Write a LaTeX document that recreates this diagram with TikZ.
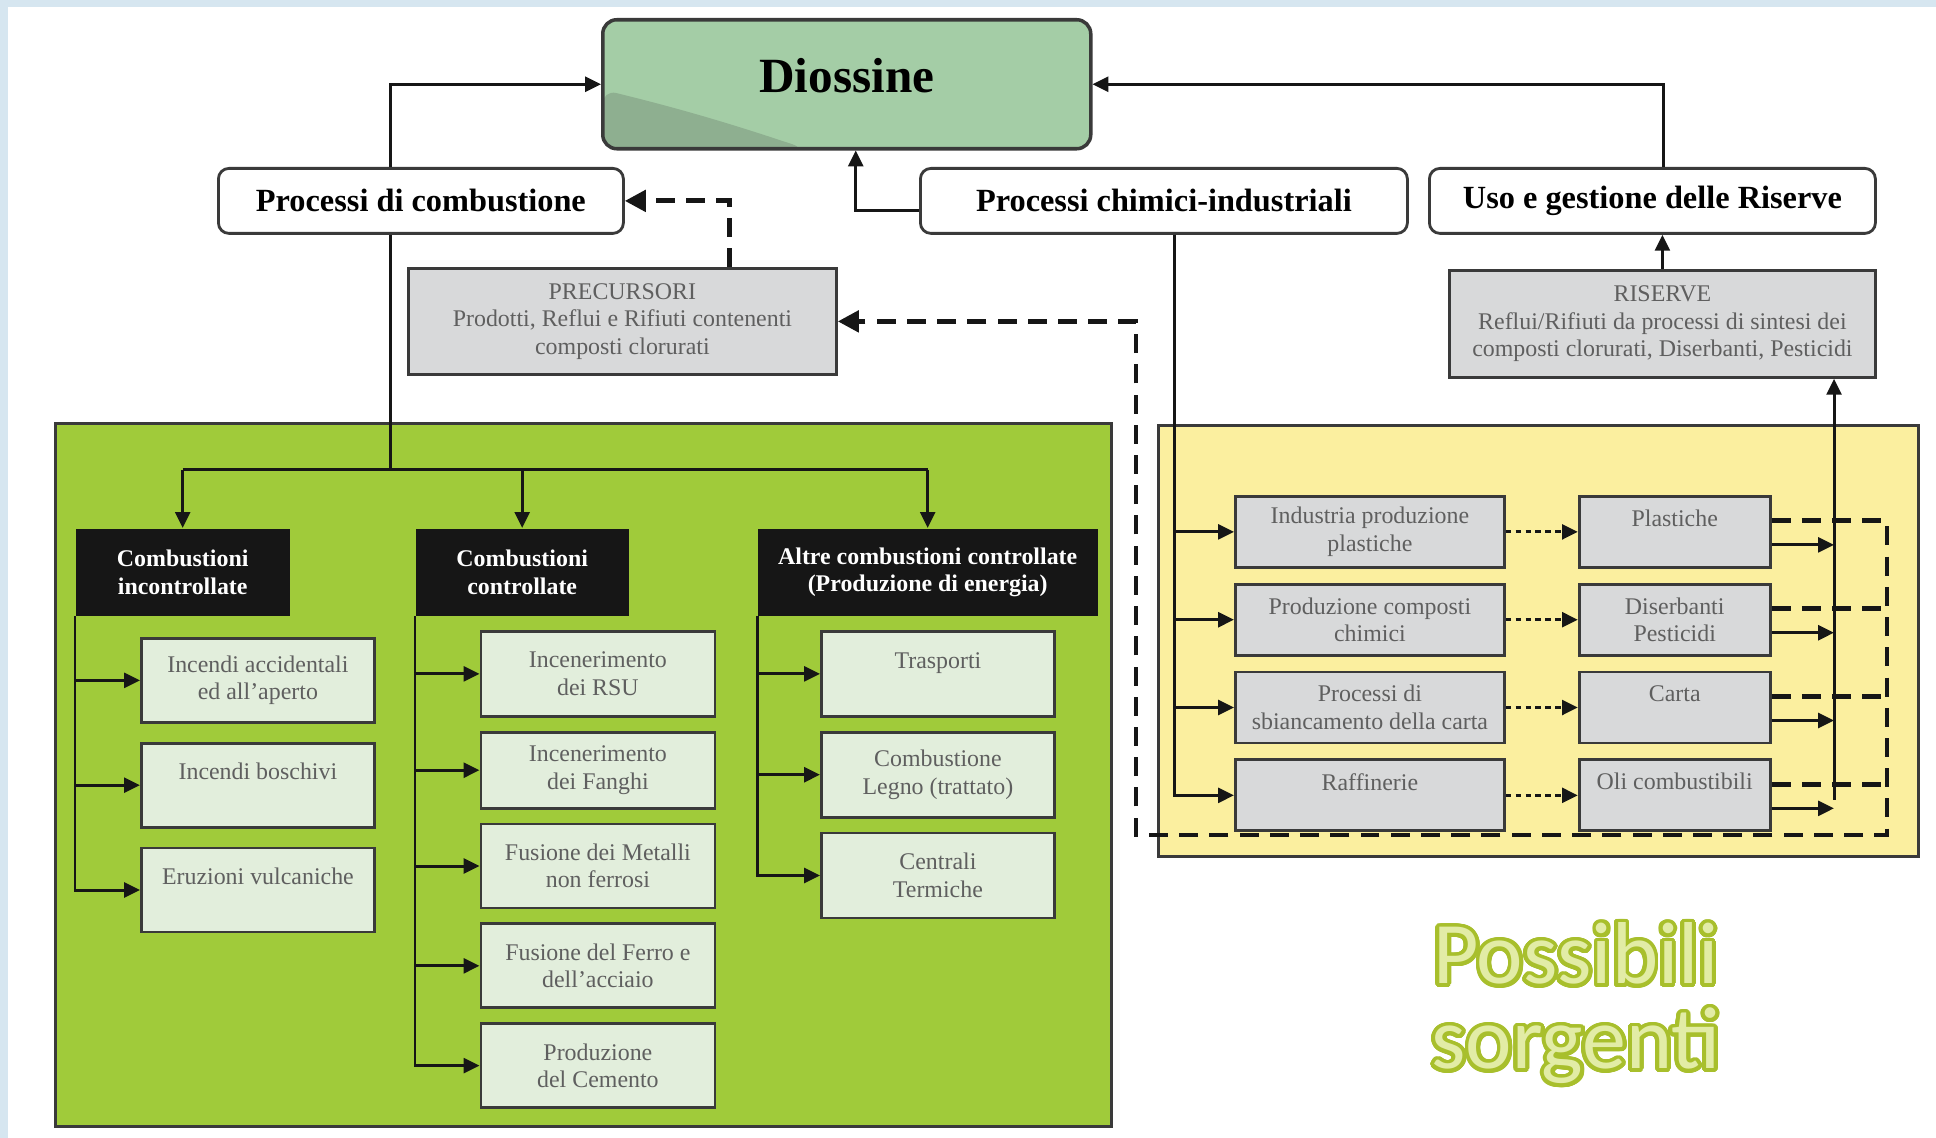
\documentclass[tikz,border=0pt]{standalone}
\usepackage{fontspec}
\setmainfont{Liberation Serif}
\newfontfamily\roundfont{Carlito}
\usepackage{contour}
\contourlength{1.1pt}
\contournumber{32}
\usetikzlibrary{arrows.meta,positioning,calc}
\usepackage{xcolor}
\definecolor{frame}{HTML}{D6E6F0}
\definecolor{ink}{HTML}{161616}
\definecolor{edge}{HTML}{3A3A3A}
\definecolor{grey}{HTML}{5F5F5F}
\definecolor{leaf}{HTML}{A0CB3A}
\definecolor{sand}{HTML}{FBEF9F}
\definecolor{mint}{HTML}{E2EEDC}
\definecolor{stone}{HTML}{D8D9DA}
\definecolor{dioxin}{HTML}{A4CDA6}
\definecolor{moss}{HTML}{8EAF90}
\definecolor{lime}{HTML}{A8BF2C}
\definecolor{limelight}{HTML}{E2ECA6}
\tikzset{
  smalltext/.style={font=\fontsize{6.8}{7.8}\selectfont},
  mainbox/.style={draw=edge,line width=0.8pt,fill=white,rounded corners=3pt,font=\fontsize{9.2}{11}\selectfont\bfseries,minimum height=0.65cm,inner sep=2pt,anchor=north west},
  diobox/.style={draw=edge,line width=1pt,rounded corners=4pt,fill=dioxin,font=\fontsize{14}{16}\selectfont\bfseries,text depth=0.18cm,anchor=north west,
    path picture={\fill[moss] ([yshift=5.9mm]path picture bounding box.south west) .. controls +(0.9,-0.22) and +(-0.6,0.2) .. ([xshift=20.3mm]path picture bounding box.south west) -- (path picture bounding box.south west) -- cycle;}},
  notebox/.style={smalltext,align=center,draw=edge,line width=0.8pt,fill=stone,text=grey,inner sep=2pt,anchor=north west},
  headbox/.style={font=\fontsize{6.8}{7.8}\selectfont\bfseries,align=center,fill=ink,text=white,minimum height=0.87cm,inner sep=1pt,anchor=north west},
  cellbox/.style={smalltext,align=center,draw=edge,line width=0.8pt,fill=mint,text=grey,minimum width=2.33cm,minimum height=0.84cm,inner sep=1pt},
  srcbox/.style={cellbox,fill=stone,minimum height=0.71cm},
  zone/.style={draw=edge,line width=0.8pt,inner sep=0pt,anchor=north west},
  wire/.style={draw=ink,line width=0.85pt},
  link/.style={wire,-{Triangle[length=4.5pt,width=4.2pt]}},
  dashlink/.style={draw=ink,line width=1.4pt,dash pattern=on 5.4pt off 3.2pt},
  dashtip/.style={-{Triangle[length=6pt,width=6pt]}},
  dotlink/.style={draw=ink,line width=0.9pt,dash pattern=on 1.6pt off 1.2pt,-{Triangle[length=4.5pt,width=4.2pt]}},
  sorg/.style={anchor=base,text=limelight,font=\roundfont\fontsize{25}{30}\selectfont}
}

\begin{document}
\begin{tikzpicture}
\fill[frame] (0,0) rectangle (19.36,-11.38);
\fill[white] (0.08,-0.07) rectangle (19.36,-11.38);
\useasboundingbox (0,0) rectangle (19.36,-11.38);

% coloured areas
\node[zone,fill=leaf,minimum width=10.56cm,minimum height=7.03cm] (combzone) at (0.54,-4.22) {};
\node[zone,fill=sand,minimum width=7.60cm,minimum height=4.31cm] (chimzone) at (11.57,-4.24) {};

% top row
\node[diobox,minimum width=4.88cm,minimum height=1.29cm] (diox) at (6.01,-0.18) {Diossine};
\node[mainbox,minimum width=4.05cm] (comb) at (2.17,-1.67) {Processi di combustione};
\node[mainbox,minimum width=4.87cm] (chim) at (9.19,-1.67) {Processi chimici-industriali};
\node[mainbox,minimum width=4.46cm] (uso) at (14.28,-1.67) {Uso e gestione delle Riserve};
\node[notebox,minimum width=4.28cm,minimum height=1.06cm] (prec) at (4.07,-2.67) {PRECURSORI\\Prodotti, Reflui e Rifiuti contenenti\\composti clorurati};
\node[notebox,minimum width=4.26cm,minimum height=1.07cm] (ris) at (14.48,-2.69) {RISERVE\\Reflui/Rifiuti da processi di sintesi dei\\composti clorurati, Diserbanti, Pesticidi};

% combustion types
\node[headbox,minimum width=2.14cm] (h1) at (0.75,-5.28) {Combustioni\\incontrollate};
\node[headbox,minimum width=2.13cm] (h2) at (4.15,-5.28) {Combustioni\\controllate};
\node[headbox,minimum width=3.40cm] (h3) at (7.57,-5.28) {Altre combustioni controllate\\(Produzione di energia)};

\node[cellbox,anchor=north west] (a1) at (1.40,-6.37) {Incendi accidentali\\ed all'aperto};
\node[cellbox,below=0.18cm of a1] (a2) {Incendi boschivi\\~};
\node[cellbox,below=0.18cm of a2] (a3) {Eruzioni vulcaniche\\~};

\node[cellbox,minimum width=2.34cm,minimum height=0.85cm,anchor=north west] (b1) at (4.795,-6.30) {Incenerimento\\dei RSU};
\node[cellbox,minimum width=2.34cm,minimum height=0.76cm,below=0.13cm of b1] (b2) {Incenerimento\\dei Fanghi};
\node[cellbox,minimum width=2.34cm,below=0.13cm of b2] (b3) {Fusione dei Metalli\\non ferrosi};
\node[cellbox,minimum width=2.34cm,below=0.13cm of b3] (b4) {Fusione del Ferro e\\dell'acciaio};
\node[cellbox,minimum width=2.34cm,below=0.13cm of b4] (b5) {Produzione\\del Cemento};

\node[cellbox,minimum height=0.85cm,anchor=north west] (c1) at (8.20,-6.30) {Trasporti\\~};
\node[cellbox,minimum height=0.85cm,below=0.13cm of c1] (c2) {Combustione\\Legno (trattato)};
\node[cellbox,minimum height=0.85cm,below=0.13cm of c2] (c3) {Centrali\\Termiche};

% chemical industry
\node[srcbox,minimum width=2.69cm,anchor=north west] (y1) at (12.34,-4.95) {Industria produzione\\plastiche};
\node[srcbox,minimum width=2.69cm,below=0.14cm of y1] (y2) {Produzione composti\\chimici};
\node[srcbox,minimum width=2.69cm,below=0.14cm of y2] (y3) {Processi di\\sbiancamento della carta};
\node[srcbox,minimum width=2.69cm,below=0.14cm of y3] (y4) {Raffinerie\\~};
\node[srcbox,minimum width=1.91cm,right=0.72cm of y1] (r1) {Plastiche\\~};
\node[srcbox,minimum width=1.91cm,right=0.72cm of y2] (r2) {Diserbanti\\Pesticidi};
\node[srcbox,minimum width=1.91cm,right=0.72cm of y3] (r3) {Carta\\~};
\node[srcbox,minimum width=1.91cm,right=0.72cm of y4] (r4) {Oli combustibili\\~};

\node[sorg] (ps1) at (15.76,-9.84) {\contour{lime}{Possibili}};
\node[sorg] (ps2) at (15.76,-10.69) {\contour{lime}{sorgenti}};

% links to Diossine
\draw[link] ([xshift=-3.05mm]comb.north) |- (diox.west);
\draw[link] ([xshift=1.1mm]uso.north) |- (diox.east);
\draw[link] ([yshift=-1mm]chim.west) -| ([xshift=0.9mm]diox.south);
\draw[link] (ris.north) -- (ris.north |- uso.south);

% combustion tree
\draw[wire] ([xshift=-3.05mm]comb.south) -- ++(0,-2.35) coordinate (fork);
\draw[wire] (h1.north |- fork) -- (h3.north |- fork);
\foreach \h in {h1,h2,h3}
  \draw[link] (\h.north |- fork) -- (\h.north);
\foreach \h/\list in {h1/{a1,a2,a3},h2/{b1,b2,b3,b4,b5},h3/{c1,c2,c3}}
  \foreach \c in \list
    \draw[link] (\h.south west) |- (\c.west);

% chemical tree
\foreach \i in {1,...,4} {
  \draw[link] ([xshift=1.05mm]chim.south) |- (y\i.west);
  \draw[dotlink] (y\i.east) -- (r\i.west);
}
\coordinate (rbus) at (18.34,-8.00);
\draw[link] (rbus) -- (rbus |- ris.south);
\foreach \i in {1,...,4}
  \draw[link] ([yshift=-1.3mm]r\i.east) -- ([yshift=-1.3mm]r\i.east -| rbus);

% feedback to the precursors
\coordinate (loop) at (18.87,-8.35);
\coordinate (back) at (11.36,-8.35);
\foreach \i in {2,3,4}
  \draw[dashlink] ([yshift=1.1mm]r\i.east) -- ([yshift=1.1mm]r\i.east -| loop);
\draw[dashlink,dashtip] ([yshift=1.1mm]r1.east) -| (loop) -- (back) |- (prec.east);
\draw[dashlink,dashtip] ([xshift=10.7mm]prec.north) |- (comb.east);
\end{tikzpicture}
\end{document}
